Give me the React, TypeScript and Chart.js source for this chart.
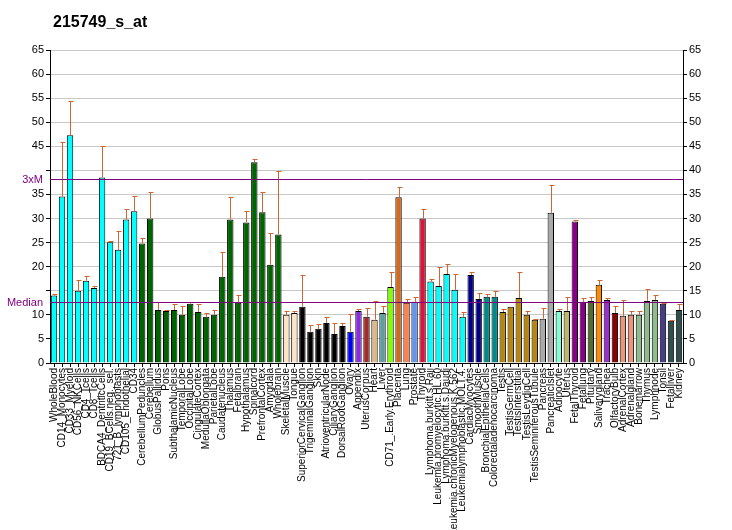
import { useEffect, useRef } from 'react';
import { Chart, registerables } from 'chart.js';

Chart.register(...registerables);

const title = '215749_s_at';

const categories: string[] = [
  'WholeBlood', 'CD14_Monocytes', 'CD33_Myeloid', 'CD56_NKCells', 'CD4_Tcells', 'CD8_Tcells',
  'BDCA4_DentriticCells', 'CD19_BCells.neg._sel.', '721_B_lymphoblasts', 'CD105_Endothelial', 'CD34',
  'CerebellumPeduncles', 'Cerebellum', 'GlobusPallidus', 'Pons', 'SubthalamicNucleus', 'TemporalLobe',
  'OccipitalLobe', 'CingulateCortex', 'MedullaOblongata', 'ParietalLobe', 'Caudatenucleus', 'Thalamus',
  'Fetalbrain', 'Hypothalamus', 'Spinalcord', 'PrefrontalCortex', 'Amygdala', 'Wholebrain',
  'SkeletalMuscle', 'Tongue', 'SuperiorCervicalGanglion', 'TrigeminalGanglion', 'Skin',
  'AtrioventricularNode', 'CiliaryGanglion', 'DorsalRootGanglion', 'Ovary', 'Appendix', 'UterusCorpus',
  'Heart', 'Liver', 'CD71_.Early.Erythroid', 'Placenta', 'Lung', 'Prostate', 'Thyroid',
  'Lymphoma.burkitt.s.Raji', 'Leukemia.promyelocytic.HL.60', 'Lymphoma.burkitt.s.Daudi',
  'Leukemia.chronicMyelogenous.K.562', 'Leukemialymphoblastic.MOLT.4.', 'CardiacMyocytes',
  'SmoothMuscle', 'BronchialEpithelialCells', 'Colorectaladenocarcinoma', 'Testis', 'TestisGermCell',
  'TestisInterstitial', 'TestisLeydigCell', 'TestisSeminiferousTubule', 'Pancreas', 'PancreaticIslet',
  'Adipocyte', 'Uterus', 'FetalThyroid', 'Fetallung', 'Pituitary', 'Salivarygland', 'Trachea',
  'OlfactoryBulb', 'AdrenalCortex', 'Adrenalgland', 'Bonemarrow', 'Thymus', 'Lymphnode', 'Tonsil',
  'Fetalliver', 'Kidney',
];

const values: number[] = [
  14.0, 34.6, 47.3, 15.0, 17.1, 15.6, 38.5, 25.1, 23.5, 29.8, 31.5,
  24.8, 30.0, 11.0, 10.8, 11.0, 10.0, 12.3, 10.6, 9.6, 10.0, 17.9, 29.8, 12.5, 29.2, 41.7, 31.3, 20.4, 26.7,
  10.0, 10.4, 11.7, 6.5, 7.1, 8.3, 6.0, 7.7, 6.5, 10.8, 9.6, 9.0, 10.4, 15.8, 34.4, 12.5, 12.7, 30.0,
  16.9, 16.0, 18.5, 15.2, 9.6, 18.3, 13.3, 13.75, 13.75, 10.6, 11.7, 13.5, 10.0, 9.0, 9.2, 31.2,
  10.8, 10.8, 29.4, 12.7, 12.9, 16.25, 13.1, 10.4, 9.8, 10.0, 10.0, 12.9, 13.1, 12.3, 8.75, 11.0,
];

const errorTops: number[] = [
  14.4, 45.8, 54.4, 17.2, 18.1, 16.0, 45.1, 25.3, 27.5, 31.9, 34.6,
  26.0, 35.6, 12.7, 11.0, 12.3, 11.9, 12.7, 12.3, 10.4, 11.0, 23.1, 34.4, 14.2, 31.5, 42.3, 35.6, 27.1, 39.8,
  10.8, 10.8, 18.3, 7.9, 8.1, 9.6, 8.3, 8.3, 10.2, 11.25, 11.5, 12.9, 11.9, 19.0, 36.5, 13.3, 13.75, 31.9,
  17.5, 20.0, 20.6, 18.5, 10.6, 19.0, 14.6, 14.4, 14.9, 11.25, 11.7, 19.0, 10.8, 9.2, 11.5, 37.0,
  11.25, 13.75, 29.6, 13.5, 13.75, 17.3, 13.5, 11.9, 13.1, 10.8, 10.8, 15.4, 14.2, 12.5, 9.0, 12.3,
];

const barColors: string[] = [
  ...Array(11).fill('#00FFFF'),
  ...Array(18).fill('#006400'),
  '#FFE4C4', '#FFE4C4',
  ...Array(6).fill('#000000'),
  '#0000FF', '#8A2BE2', '#A52A2A', '#DEB887', '#5F9EA0', '#7FFF00', '#D2691E', '#FF7F50', '#6495ED', '#DC143C',
  ...Array(5).fill('#00FFFF'),
  '#00008B', '#00008B',
  '#008B8B', '#008B8B',
  ...Array(5).fill('#B8860B'),
  '#A9A9A9', '#A9A9A9',
  '#7FFFD4', '#BDB76B', '#8B008B', '#8B008B', '#556B2F', '#FF8C00', '#9932CC', '#8B0000',
  '#E9967A', '#E9967A', '#8FBC8F', '#8FBC8F', '#8FBC8F', '#483D8B', '#2F4F4F', '#2F4F4F',
];

const medianValue = 12.75;
const threeXMValue = 38.25;
const yMin = 0;
const yMax = 65;
const yStep = 5;
const hiddenLeftTicks = [40, 15];

const FONT = 'Arial, "Liberation Sans", sans-serif';

const overlayPlugin = {
  id: 'overlay',
  beforeDraw(chart: any) {
    const ctx = chart.ctx;
    ctx.save();
    ctx.fillStyle = '#FFFFFF';
    ctx.fillRect(0, 0, chart.width, chart.height);
    ctx.restore();
  },
  afterDatasetsDraw(chart: any) {
    const ctx = chart.ctx;
    const y = chart.scales.y;
    const area = chart.chartArea;
    const meta = chart.getDatasetMeta(0);
    ctx.save();
    // error bars
    ctx.strokeStyle = '#CC6633';
    ctx.lineWidth = 1;
    meta.data.forEach((bar: any, i: number) => {
      const x = Math.round(bar.x) + 0.5;
      const yb = y.getPixelForValue(values[i]);
      const yt = Math.round(y.getPixelForValue(errorTops[i])) + 0.5;
      if (errorTops[i] <= values[i]) return;
      ctx.beginPath();
      ctx.moveTo(x, yb);
      ctx.lineTo(x, yt);
      ctx.moveTo(x - 2, yt);
      ctx.lineTo(x + 3, yt);
      ctx.stroke();
    });
    // reference lines
    ctx.strokeStyle = '#800080';
    ctx.fillStyle = '#800080';
    ctx.font = `11px ${FONT}`;
    ctx.textAlign = 'right';
    ctx.textBaseline = 'middle';
    const lines: [number, string][] = [[threeXMValue, '3xM'], [medianValue, 'Median']];
    lines.forEach(([v, label]) => {
      const py = Math.round(y.getPixelForValue(v)) + 0.5;
      ctx.beginPath();
      ctx.moveTo(area.left, py);
      ctx.lineTo(area.right, py);
      ctx.stroke();
      ctx.fillText(label, area.left - 7, py);
    });
    ctx.restore();
  },
  afterDraw(chart: any) {
    const ctx = chart.ctx;
    ctx.save();
    ctx.fillStyle = '#000000';
    ctx.font = `bold 16px ${FONT}`;
    ctx.textAlign = 'left';
    ctx.textBaseline = 'alphabetic';
    ctx.fillText(title, 53, 27);
    ctx.restore();
  },
};

export default function App() {
  const canvasRef = useRef<HTMLCanvasElement | null>(null);

  useEffect(() => {
    document.body.style.margin = '0';
    const canvas = canvasRef.current;
    if (!canvas) return;
    const chart = new Chart(canvas, {
      type: 'bar',
      data: {
        labels: categories,
        datasets: [
          {
            data: values,
            backgroundColor: barColors,
            borderColor: '#000000',
            borderWidth: 1,
            barPercentage: 0.8,
            categoryPercentage: 1,
          },
        ],
      },
      options: {
        animation: false,
        responsive: false,
        devicePixelRatio: 1,
        layout: { padding: { top: 50, left: 0, right: 0, bottom: 0 } },
        plugins: {
          legend: { display: false },
          tooltip: { enabled: false },
          title: { display: false },
        },
        scales: {
          x: {
            type: 'category',
            offset: true,
            grid: { offset: false, drawOnChartArea: false, drawTicks: true, tickLength: 4, color: '#000000' },
            border: { color: '#000000' },
            ticks: {
              autoSkip: false,
              maxRotation: 90,
              minRotation: 90,
              padding: 1,
              color: '#000000',
              font: { size: 10, family: FONT },
            },
            afterFit: (s: any) => { s.height = 167; },
          },
          y: {
            position: 'left',
            min: yMin,
            max: yMax,
            grid: { color: '#C8C8C8', tickColor: '#000000', tickLength: 4 },
            border: { color: '#000000' },
            ticks: {
              stepSize: yStep,
              color: '#000000',
              padding: 2,
              font: { size: 11, family: FONT },
              callback: (v: any) => (hiddenLeftTicks.includes(Number(v)) ? '' : String(v)),
            },
            afterFit: (s: any) => { s.width = 50; },
          },
          y2: {
            position: 'right',
            min: yMin,
            max: yMax,
            grid: { drawOnChartArea: false, tickColor: '#000000', tickLength: 4 },
            border: { color: '#000000' },
            ticks: {
              stepSize: yStep,
              color: '#000000',
              padding: 2,
              font: { size: 11, family: FONT },
            },
            afterFit: (s: any) => { s.width = 49; },
          },
        },
      },
      plugins: [overlayPlugin],
    });
    return () => chart.destroy();
  }, []);

  return <canvas ref={canvasRef} width={732} height={530} style={{ display: 'block' }} />;
}
